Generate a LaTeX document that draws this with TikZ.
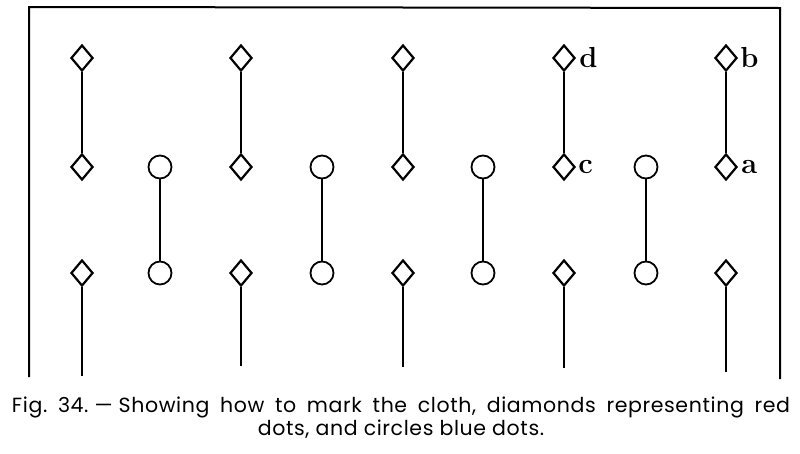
\documentclass[tikz,border=0pt]{standalone}
\usepackage{fontspec}
\newfontfamily\capfont[LetterSpace=3]{Poppins}
\usetikzlibrary{shapes.geometric}
\frenchspacing
\tikzset{
  red dot/.style={draw, diamond, line width=2.2pt, minimum width=22pt, minimum height=26pt, inner sep=0pt},
  blue dot/.style={draw, circle, line width=1.8pt, minimum size=23pt, inner sep=0pt},
  thread/.style={line width=1.8pt},
  frame/.style={line width=2pt},
  letter/.style={font=\bfseries\fontsize{29}{29}\selectfont, inner sep=1pt, anchor=west},
  caption/.style={font=\capfont\fontsize{20.5}{23}\selectfont, align=center}
}
\begin{document}
\begin{tikzpicture}[x=1pt,y=-1pt]
\useasboundingbox (0,0) rectangle (800,453);
% frame
\coordinate (f1) at (29,377);
\coordinate (f2) at (29,7);
\coordinate (f3) at (780,8);
\coordinate (f4) at (780,379);
\draw[frame] (f1) -- (f2) -- (f3) -- (f4);
% diamonds
\foreach \i/\x/\e in {1/82/376, 2/241/366, 3/403/367, 4/564/368, 5/726/372} {
  \node[red dot] (t\i) at (\x,58) {};
  \node[red dot] (m\i) at (\x,167) {};
  \node[red dot] (b\i) at (\x,273) {};
  \coordinate (e\i) at (\x,\e);
  \draw[thread] (t\i) -- (m\i);
  \draw[thread] (b\i) -- (e\i);
}
% circles
\foreach \i/\x in {1/160, 2/322, 3/483, 4/646} {
  \node[blue dot] (u\i) at (\x,167) {};
  \node[blue dot] (l\i) at (\x,273) {};
  \draw[thread] (u\i) -- (l\i);
}
% letters
\node[letter] (ld) at ([xshift=2pt]t4.east) {d};
\node[letter] (lc) at ([xshift=1pt]m4.east) {c};
\node[letter] (lb) at ([xshift=1pt]t5.east) {b};
\node[letter] (la) at ([xshift=2pt]m5.east) {a};
% caption
\node[caption] (cap) at (401,418) {\makebox[778pt][s]{Fig. 34.\hspace{6pt}—\hspace{6pt}Showing how to mark the cloth, diamonds representing red}\\dots, and circles blue dots.};
\end{tikzpicture}
\end{document}
